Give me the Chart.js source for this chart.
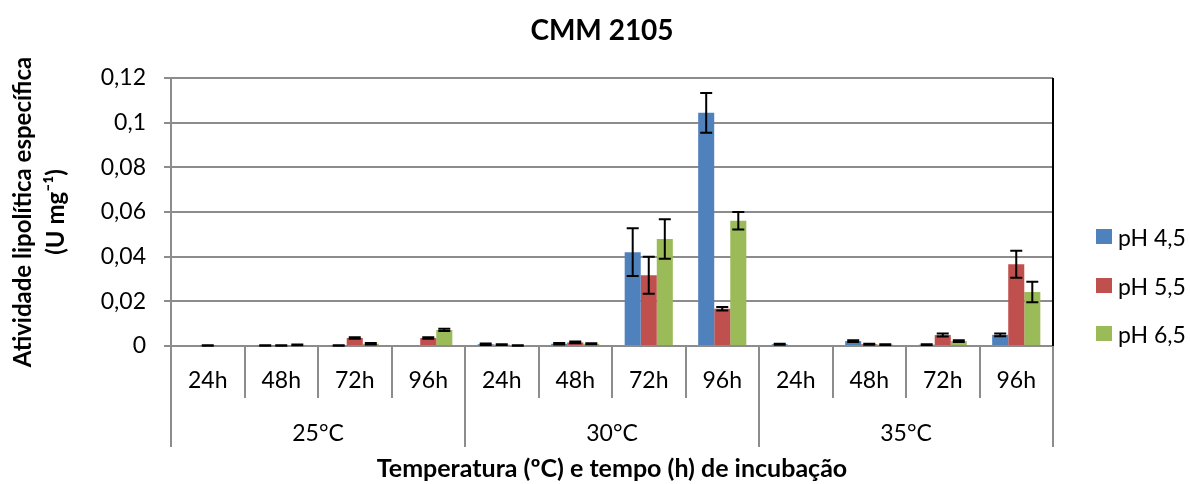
<!DOCTYPE html>
<html>
<head>
<meta charset="utf-8">
<script src="https://cdn.jsdelivr.net/npm/chart.js@4"></script>
<style>
    html, body { margin: 0; padding: 0; background: #fff; }
    #wrap { position: relative; width: 1190px; height: 484px; font-family: Lato, sans-serif; }
    #title { position: absolute; left: 452px; width: 300px; top: 12px; text-align: center; font-weight: bold; font-size: 28px; color: #000; }
    #legend { position: absolute; left: 1096px; top: 223px; font-size: 23px; color: #000; }
    #legend div { height: 48.5px; display: flex; align-items: flex-start; }
    #legend span.box { display: inline-block; width: 16px; height: 15px; margin-right: 6px; margin-top: 6px; }
</style>
</head>
<body>
<div id="wrap">
    <canvas id="chart" width="1190" height="484"></canvas>
    <div id="title">CMM 2105</div>
    <div id="legend"></div>
</div>
<script>
const timeLabels = ['24h', '48h', '72h', '96h', '24h', '48h', '72h', '96h', '24h', '48h', '72h', '96h'];
const tempLabels = ['25°C', '30°C', '35°C'];
const yTickLabels = ['0', '0,02', '0,04', '0,06', '0,08', '0,1', '0,12'];

const seriesNames = ['pH 4,5', 'pH 5,5', 'pH 6,5'];
const seriesColors = ['#4F81BD', '#C0504D', '#9BBB59'];

const ph45 = [0, 0.0002, 0.0002, 0, 0.0008, 0.0010, 0.0420, 0.1044, 0.0008, 0.0022, 0.0006, 0.0050];
const ph55 = [0.0002, 0.0002, 0.0036, 0.0036, 0.0006, 0.0016, 0.0317, 0.0167, 0, 0.0008, 0.0049, 0.0366];
const ph65 = [0, 0.0005, 0.0010, 0.0072, 0.0002, 0.0010, 0.0479, 0.0561, 0, 0.0006, 0.0022, 0.0242];

const err45 = [0, 0.0001, 0.0001, 0, 0.0003, 0.0003, 0.0107, 0.0089, 0.0002, 0.0004, 0.0002, 0.0006];
const err55 = [0.0001, 0.0001, 0.0003, 0.0003, 0.0002, 0.0004, 0.0083, 0.0008, 0, 0.0002, 0.0007, 0.0060];
const err65 = [0, 0.0002, 0.0003, 0.0005, 0.0001, 0.0002, 0.0088, 0.0039, 0, 0.0002, 0.0004, 0.0046];

const seriesValues = [ph45, ph55, ph65];
const seriesErrors = [err45, err55, err65];

const gridGrey = '#8c8c8c';

// error bars drawn on top of the bars
const errorBars = {
    id: 'errorBars',
    afterDatasetsDraw(chart) {
        const ctx = chart.ctx;
        const y = chart.scales.y;
        ctx.save();
        ctx.strokeStyle = '#000';
        ctx.lineWidth = 2;
        chart.data.datasets.forEach((ds, i) => {
            const meta = chart.getDatasetMeta(i);
            meta.data.forEach((bar, j) => {
                const v = ds.data[j];
                const e = ds.errors[j];
                if (!e) return;
                const top = y.getPixelForValue(v + e);
                const bot = y.getPixelForValue(Math.max(0, v - e));
                ctx.beginPath();
                ctx.moveTo(bar.x, top);
                ctx.lineTo(bar.x, bot);
                ctx.moveTo(bar.x - 6, top);
                ctx.lineTo(bar.x + 6, top);
                ctx.moveTo(bar.x - 6, bot);
                ctx.lineTo(bar.x + 6, bot);
                ctx.stroke();
            });
        });
        ctx.restore();
    }
};

// dark right edge of the plot area
const rightEdge = {
    id: 'rightEdge',
    afterDraw(chart) {
        const a = chart.chartArea;
        const ctx = chart.ctx;
        ctx.save();
        ctx.strokeStyle = '#000';
        ctx.lineWidth = 2;
        ctx.beginPath();
        ctx.moveTo(a.right, a.top);
        ctx.lineTo(a.right, a.bottom);
        ctx.stroke();
        ctx.restore();
    }
};

new Chart(document.getElementById('chart'), {
    type: 'bar',
    data: {
        labels: timeLabels,
        datasets: seriesNames.map((name, i) => ({
            label: name,
            data: seriesValues[i],
            errors: seriesErrors[i],
            backgroundColor: seriesColors[i],
            borderWidth: 0,
            categoryPercentage: 0.655,
            barPercentage: 1.0,
        })),
    },
    options: {
        responsive: false,
        animation: false,
        layout: {
            padding: { top: 78, right: 137, left: 0, bottom: 0 },
        },
        plugins: {
            legend: { display: false },
            tooltip: { enabled: false },
        },
        scales: {
            x: {
                weight: 0,
                grid: {
                    offset: true,
                    drawOnChartArea: false,
                    tickLength: 52,
                    color: gridGrey,
                    lineWidth: 2,
                },
                border: { color: gridGrey, width: 2 },
                ticks: {
                    color: '#000',
                    padding: -31,
                    font: { family: 'Lato', size: 23 },
                    maxRotation: 0,
                    autoSkip: false,
                },
                afterFit(axis) { axis.height = 52; },
            },
            x2: {
                type: 'category',
                labels: tempLabels,
                position: 'bottom',
                offset: true,
                weight: 1,
                grid: {
                    offset: true,
                    drawOnChartArea: false,
                    tickLength: 49,
                    color: gridGrey,
                    lineWidth: 2,
                },
                border: { display: false },
                ticks: {
                    color: '#000',
                    padding: -27,
                    font: { family: 'Lato', size: 23 },
                    maxRotation: 0,
                },
                title: {
                    display: true,
                    text: 'Temperatura (ºC) e tempo (h) de incubação',
                    color: '#000',
                    font: { family: 'Lato', size: 25, weight: 'bold' },
                    padding: { top: 0, bottom: 0 },
                },
                afterFit(axis) { axis.height = 86; },
            },
            y: {
                min: 0,
                max: 0.12,
                grid: {
                    color: gridGrey,
                    lineWidth: 2,
                    tickLength: 7,
                },
                border: { color: gridGrey, width: 2 },
                ticks: {
                    stepSize: 0.02,
                    color: '#000',
                    padding: 18,
                    font: { family: 'Lato', size: 23 },
                    callback: (v, i) => yTickLabels[i],
                },
                title: {
                    display: true,
                    text: ['Atividade lipolítica específica', '(U mg⁻¹)'],
                    color: '#000',
                    font: { family: 'Lato', size: 24, weight: 'bold', lineHeight: 1.4 },
                    padding: { top: 6, bottom: 0 },
                },
                afterFit(axis) { axis.width = 171; },
            },
        },
    },
    plugins: [errorBars, rightEdge],
});

const legendEl = document.getElementById('legend');
seriesNames.forEach((name, i) => {
    const row = document.createElement('div');
    row.innerHTML = '<span class="box" style="background:' + seriesColors[i] + '"></span>' + name;
    legendEl.appendChild(row);
});
</script>
</body>
</html>
